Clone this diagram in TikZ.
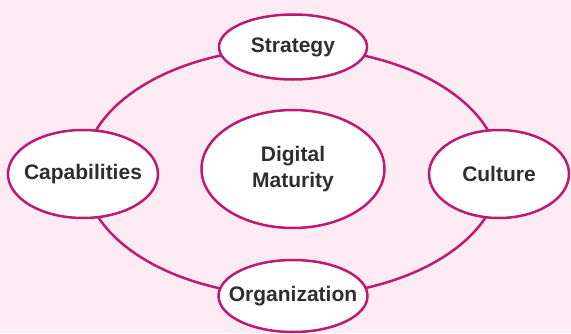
\documentclass[tikz,border=0pt]{standalone}
\usepackage{fontspec}
\setmainfont{Liberation Sans}
\usetikzlibrary{shapes.geometric}
\definecolor{ringcol}{HTML}{BE1A6E}
\definecolor{bgpink}{HTML}{FCEBF3}
\definecolor{txtgray}{HTML}{2E2E2E}
\begin{document}
\begin{tikzpicture}[x=1pt,y=1pt,
    bubble/.style={draw=ringcol,line width=2.5pt,fill=white,ellipse,inner xsep=-12pt,inner ysep=0pt,
      text=txtgray,font=\fontsize{21}{26}\selectfont\bfseries,align=center}]
        \fill[bgpink] (0,0) rectangle (571,333);
        \useasboundingbox (0,0) rectangle (571,333);
        \coordinate (ctr) at (292,161);
        \draw[ringcol,line width=2.5pt] (ctr) ellipse [x radius=208, y radius=124];
        \node[bubble,minimum width=183,minimum height=118] (dm) at (293,164) {Digital\\Maturity};
         \node[bubble,minimum width=148,minimum height=65,above of=dm,node distance=122] (strat) {Strategy};
         \node[bubble,minimum width=149,minimum height=72,below of=dm,node distance=127] (org) {Organization};
         \node[bubble,minimum width=150,minimum height=88] (cap) at (83,159) {Capabilities};
         \node[bubble,minimum width=140,minimum height=88] (cult) at (499,159) {Culture};

      \end{tikzpicture}
\end{document}
